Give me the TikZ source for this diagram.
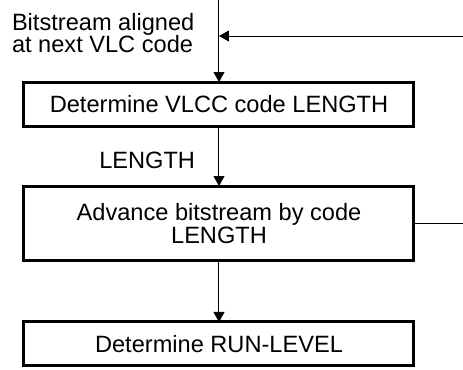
\documentclass[tikz,border=0pt]{standalone}
\usepackage{fontspec}
\setmainfont{Liberation Sans}
\usetikzlibrary{arrows.meta}
\begin{document}
\begin{tikzpicture}[x=0.5pt,y=-0.5pt,
  every node/.style={font=\fontsize{11.8}{11.5}\selectfont, inner sep=0pt, outer sep=0pt},
  stepbox/.style={draw, line width=1.5pt, minimum width=195pt, align=center},
  conn/.style={line width=0.5pt, -{Triangle[length=5pt,width=5.5pt]}},
  plain/.style={line width=0.5pt}]
\useasboundingbox (0,0) rectangle (463,370);
\coordinate (top) at (219,0);
\coordinate (fbin) at (463,36);
\coordinate (fbout) at (463,223);
\node[stepbox, minimum height=22pt] (b1) at (219,104) {Determine VLCC code LENGTH};
\node[stepbox, minimum height=37.5pt] (b2) at (219,223.5) {Advance bitstream by code\\[-0.3pt]LENGTH};
\node[stepbox, minimum height=22pt] (b3) at (219,344) {Determine RUN-LEVEL};
\node[align=left, anchor=west] (lbl) at (12,33) {Bitstream aligned\\[-0.8pt]at next VLC code};
\node[anchor=east] (len) at (195,160) {LENGTH};
\coordinate (fbtip) at (top |- fbin);
\draw[conn] (top) -- (b1.north);
\draw[conn] (fbin) -- (fbtip);
\draw[conn] (b1.south) -- (b2.north);
\draw[conn] (b2.south) -- (b3.north);
\draw[plain] (b2.east |- fbout) -- (fbout);
\end{tikzpicture}
\end{document}
